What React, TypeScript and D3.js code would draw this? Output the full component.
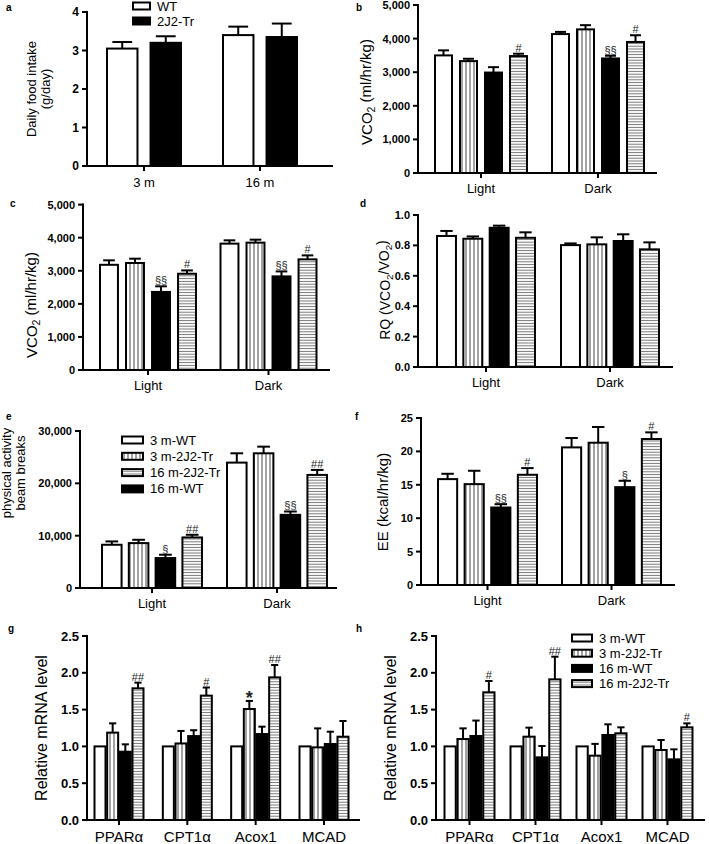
import React from 'react';
import * as d3 from 'd3';

// ---------- DATA ----------
const fourSeries = ['3 m-WT', '3 m-2J2-Tr', '16 m-WT', '16 m-2J2-Tr'];
const lightDark = ['Light', 'Dark'];
const genes = ['PPARα', 'CPT1α', 'Acox1', 'MCAD'];

// a: daily food intake
const aCategories = ['3 m', '16 m'];
const aSeries = ['WT', '2J2-Tr'];
const aMeans = [[3.05, 3.2], [3.4, 3.35]];
const aErr = [[0.17, 0.17], [0.22, 0.35]];
const aTicks = [0, 1, 2, 3, 4];

// b: VCO2
const bMeans = [[3500, 3330, 2990, 3480], [4135, 4275, 3410, 3900]];
const bErr = [[150, 70, 160, 70], [65, 125, 80, 200]];
const bMarks = [['', '', '', '#'], ['', '', '§§', '#']];
const vcoTicks = [0, 1000, 2000, 3000, 4000, 5000];

// c: VCO2
const cMeans = [[3180, 3235, 2360, 2910], [3820, 3850, 2830, 3345]];
const cErr = [[135, 130, 170, 100], [100, 90, 150, 120]];
const cMarks = [['', '', '§§', '#'], ['', '', '§§', '#']];

// d: RQ
const dMeans = [[0.862, 0.844, 0.916, 0.85], [0.802, 0.807, 0.829, 0.774]];
const dErr = [[0.033, 0.015, 0.014, 0.036], [0.011, 0.046, 0.044, 0.046]];
const dMarks = [['', '', '', ''], ['', '', '', '']];
const dTicks = [0, 0.2, 0.4, 0.6, 0.8, 1.0];

// e: physical activity
const eMeans = [[8260, 8580, 5720, 9660], [23960, 25740, 13980, 21610]];
const eErr = [[640, 635, 636, 510], [1780, 1270, 640, 950]];
const eMarks = [['', '', '§', '##'], ['', '', '§§', '##']];
const eTicks = [0, 10000, 20000, 30000];
const eLegendOrder = ['3 m-WT', '3 m-2J2-Tr', '16 m-2J2-Tr', '16 m-WT'];

// f: EE
const fMeans = [[15.85, 15.1, 11.6, 16.5], [20.6, 21.3, 14.65, 21.85]];
const fErr = [[0.8, 2.0, 0.5, 1.0], [1.4, 2.35, 0.95, 1.0]];
const fMarks = [['', '', '§§', '#'], ['', '', '§', '#']];
const fTicks = [0, 5, 10, 15, 20, 25];

// g: mRNA
const gMeans = [[1, 1.187, 0.928, 1.789], [1, 1.04, 1.14, 1.69], [1, 1.508, 1.168, 1.938], [1, 0.987, 1.033, 1.132]];
const gErr = [[0, 0.126, 0.1, 0.077], [0, 0.17, 0.08, 0.11], [0, 0.11, 0.1, 0.168], [0, 0.258, 0.167, 0.213]];
const gMarks = [['', '', '', '##'], ['', '', '', '#'], ['', '*', '', '##'], ['', '', '', '']];
const mrnaTicks = [0, 0.5, 1.0, 1.5, 2.0, 2.5];

// h: mRNA
const hMeans = [[1, 1.1, 1.141, 1.735], [1, 1.132, 0.851, 1.911], [1, 0.874, 1.155, 1.178], [1, 0.951, 0.824, 1.259]];
const hErr = [[0, 0.145, 0.21, 0.154], [0, 0.123, 0.154, 0.308], [0, 0.16, 0.145, 0.081], [0, 0.136, 0.136, 0.054]];
const hMarks = [['', '', '', '#'], ['', '', '', '##'], ['', '', '', ''], ['', '', '', '#']];

// ---------- STYLE ----------
const FONT = '"Liberation Sans", Arial, Helvetica, sans-serif';
const seriesFill: Record<string, string> = {
  '3 m-WT': 'white',
  '3 m-2J2-Tr': 'url(#vstripe)',
  '16 m-WT': 'black',
  '16 m-2J2-Tr': 'url(#hstripe)',
  WT: 'white',
  '2J2-Tr': 'black',
};

type PanelProps = {
  letter: string;
  letterPos: [number, number];
  axX: number;
  yTop: number;
  yBottom: number;
  xEnd: number;
  yMax: number;
  ticks: number[];
  fmt: (v: number) => string;
  cats: string[];
  series: string[];
  centerRange: [number, number];
  groupWidth: number;
  innerPad: number;
  means: number[][];
  errs: number[][];
  marks?: string[][];
  tickFont: number;
  catFont: number;
  catDy: number;
  ylabel: React.ReactNode;
};

function Panel(p: PanelProps) {
  const y = d3.scaleLinear().domain([0, p.yMax]).range([p.yBottom, p.yTop]);
  const gx = d3.scalePoint<string>().domain(p.cats).range(p.centerRange);
  const inner = d3
    .scaleBand<string>()
    .domain(p.series)
    .range([-p.groupWidth / 2, p.groupWidth / 2])
    .paddingInner(p.innerPad);
  const bw = inner.bandwidth();
  const cap = bw * 0.65;
  return (
    <g fontFamily={FONT}>
      <text x={p.letterPos[0]} y={p.letterPos[1]} fontSize={10} fontWeight="bold">
        {p.letter}
      </text>
      {p.cats.map((c, ci) => (
        <g key={c}>
          {p.series.map((s, si) => {
            const v = p.means[ci][si];
            const e = p.errs[ci][si];
            const x0 = (gx(c) as number) + (inner(s) as number);
            const xm = x0 + bw / 2;
            const yTopBar = y(v);
            const yErr = y(v + e);
            const mark = p.marks ? p.marks[ci][si] : '';
            return (
              <g key={s}>
                <rect
                  x={x0}
                  y={yTopBar}
                  width={bw}
                  height={p.yBottom - yTopBar}
                  fill={seriesFill[s]}
                  stroke="black"
                  strokeWidth={2}
                />
                {e > 0 && (
                  <g stroke="black" strokeWidth={2}>
                    <line x1={xm} x2={xm} y1={yTopBar} y2={yErr} />
                    <line x1={xm - cap / 2} x2={xm + cap / 2} y1={yErr} y2={yErr} />
                  </g>
                )}
                {mark && (
                  <text
                    x={xm}
                    y={mark === '*' ? yErr + 3 : yErr - 2}
                    textAnchor="middle"
                    fontSize={mark === '*' ? 18 : 11}
                    fontWeight={mark === '*' ? 'bold' : 'normal'}
                    fill="#222"
                  >
                    {mark}
                  </text>
                )}
              </g>
            );
          })}
        </g>
      ))}
      {/* axes */}
      <line x1={p.axX} x2={p.axX} y1={p.yTop - 1} y2={p.yBottom} stroke="black" strokeWidth={2} />
      <line x1={p.axX - 1} x2={p.xEnd} y1={p.yBottom} y2={p.yBottom} stroke="black" strokeWidth={2} />
      {p.ticks.map((t) => (
        <g key={t}>
          <line x1={p.axX - 5} x2={p.axX} y1={y(t)} y2={y(t)} stroke="black" strokeWidth={2} />
          <text
            x={p.axX - 8}
            y={y(t)}
            dy="0.36em"
            textAnchor="end"
            fontSize={p.tickFont}
            fontWeight="bold"
          >
            {p.fmt(t)}
          </text>
        </g>
      ))}
      {p.cats.map((c) => (
        <g key={c}>
          <line
            x1={gx(c)}
            x2={gx(c)}
            y1={p.yBottom}
            y2={p.yBottom + 5}
            stroke="black"
            strokeWidth={2}
          />
          <text x={gx(c)} y={p.yBottom + p.catDy} textAnchor="middle" fontSize={p.catFont}>
            {c}
          </text>
        </g>
      ))}
      {p.ylabel}
    </g>
  );
}

function Legend({ x, y, items, rowH, boxW, boxH, font }: { x: number; y: number; items: string[]; rowH: number; boxW: number; boxH: number; font: number }) {
  return (
    <g fontFamily={FONT}>
      {items.map((s, i) => (
        <g key={s} transform={`translate(${x},${y + i * rowH})`}>
          <rect x={0} y={-boxH / 2} width={boxW} height={boxH} fill={seriesFill[s]} stroke="black" strokeWidth={2} />
          <text x={boxW + 7} y={0} dy="0.35em" fontSize={font}>
            {s}
          </text>
        </g>
      ))}
    </g>
  );
}

function YLabel({ x, y, lines, size }: { x: number; y: number; lines: React.ReactNode[]; size: number }) {
  return (
    <g transform={`translate(${x},${y}) rotate(-90)`} fontFamily={FONT} fontSize={size}>
      {lines.map((l, i) => (
        <text key={i} x={0} y={i * (size + 1)} textAnchor="middle">
          {l}
        </text>
      ))}
    </g>
  );
}

const comma = d3.format(',');
const fmtInt = (v: number) => d3.format('d')(v);
const fmt1 = d3.format('.1f');
const sub = (t: string) => (
  <tspan fontSize="0.7em" dy="0.3em">
    {t}
  </tspan>
);

export default function App() {
  return (
    <div style={{ position: 'absolute', left: 0, top: 0 }}>
      <svg width={709} height={844} style={{ display: 'block', background: 'white' }}>
        <defs>
          <pattern id="vstripe" patternUnits="userSpaceOnUse" width={4} height={4}>
            <rect width={4} height={4} fill="white" />
            <line x1={2} x2={2} y1={0} y2={4} stroke="#555" strokeWidth={1.1} />
          </pattern>
          <pattern id="hstripe" patternUnits="userSpaceOnUse" width={4} height={2.8}>
            <rect width={4} height={2.8} fill="white" />
            <line x1={0} x2={4} y1={1.4} y2={1.4} stroke="#777" strokeWidth={1} />
          </pattern>
        </defs>

        {/* a */}
        <Panel
          letter="a" letterPos={[6, 11]}
          axX={87} yTop={12} yBottom={166} xEnd={333}
          yMax={4} ticks={aTicks} fmt={fmtInt}
          cats={aCategories} series={aSeries}
          centerRange={[144, 260]} groupWidth={74} innerPad={0.3}
          means={aMeans} errs={aErr}
          tickFont={12} catFont={13} catDy={21}
          ylabel={<YLabel x={36} y={89} size={13} lines={['Daily food intake', '(g/day)']} />}
        />
        <Legend x={133} y={6} items={aSeries} rowH={15} boxW={17} boxH={7} font={13} />

        {/* b */}
        <Panel
          letter="b" letterPos={[356, 11]}
          axX={418} yTop={5} yBottom={173} xEnd={657}
          yMax={5000} ticks={vcoTicks} fmt={comma}
          cats={lightDark} series={fourSeries}
          centerRange={[481, 598]} groupWidth={92} innerPad={0.32}
          means={bMeans} errs={bErr} marks={bMarks}
          tickFont={11} catFont={13} catDy={20}
          ylabel={<YLabel x={372} y={92} size={15} lines={[<>VCO{sub('2')}<tspan dy="-0.3em"> (ml/hr/kg)</tspan></>]} />}
        />

        {/* c */}
        <Panel
          letter="c" letterPos={[10, 207]}
          axX={83} yTop={204.6} yBottom={370} xEnd={330}
          yMax={5000} ticks={vcoTicks} fmt={comma}
          cats={lightDark} series={fourSeries}
          centerRange={[148, 268.5]} groupWidth={96} innerPad={0.31}
          means={cMeans} errs={cErr} marks={cMarks}
          tickFont={11} catFont={13} catDy={20}
          ylabel={<YLabel x={37} y={305} size={15} lines={[<>VCO{sub('2')}<tspan dy="-0.3em"> (ml/hr/kg)</tspan></>]} />}
        />

        {/* d */}
        <Panel
          letter="d" letterPos={[360, 207]}
          axX={418} yTop={215} yBottom={367} xEnd={673}
          yMax={1.0} ticks={dTicks} fmt={fmt1}
          cats={lightDark} series={fourSeries}
          centerRange={[486, 610]} groupWidth={98} innerPad={0.28}
          means={dMeans} errs={dErr} marks={dMarks}
          tickFont={11} catFont={13} catDy={20}
          ylabel={
            <YLabel x={390} y={290} size={14} lines={[
              <>RQ (VCO{sub('2')}<tspan dy="-0.3em">/VO</tspan>{sub('2')}<tspan dy="-0.3em">)</tspan></>,
            ]} />
          }
        />

        {/* e */}
        <Panel
          letter="e" letterPos={[6, 420]}
          axX={80} yTop={431} yBottom={588} xEnd={337}
          yMax={30000} ticks={eTicks} fmt={comma}
          cats={lightDark} series={fourSeries}
          centerRange={[152, 277]} groupWidth={100} innerPad={0.27}
          means={eMeans} errs={eErr} marks={eMarks}
          tickFont={11} catFont={13} catDy={20}
          ylabel={<YLabel x={11} y={473} size={13} lines={['physical activity', 'beam breaks']} />}
        />
        <Legend x={122} y={440} items={eLegendOrder} rowH={16.3} boxW={21} boxH={7} font={13} />

        {/* f */}
        <Panel
          letter="f" letterPos={[355, 420]}
          axX={421} yTop={418} yBottom={585} xEnd={675}
          yMax={25} ticks={fTicks} fmt={fmtInt}
          cats={lightDark} series={fourSeries}
          centerRange={[487.5, 611.5]} groupWidth={99} innerPad={0.28}
          means={fMeans} errs={fErr} marks={fMarks}
          tickFont={11} catFont={13} catDy={20}
          ylabel={<YLabel x={388} y={502} size={15} lines={['EE (kcal/hr/kg)']} />}
        />

        {/* g */}
        <Panel
          letter="g" letterPos={[8, 632]}
          axX={87} yTop={636} yBottom={820} xEnd={360}
          yMax={2.5} ticks={mrnaTicks} fmt={fmt1}
          cats={genes} series={fourSeries}
          centerRange={[119, 324]} groupWidth={49} innerPad={0.13}
          means={gMeans} errs={gErr} marks={gMarks}
          tickFont={13} catFont={15} catDy={22}
          ylabel={<YLabel x={47} y={728} size={16} lines={['Relative mRNA level']} />}
        />

        {/* h */}
        <Panel
          letter="h" letterPos={[356, 632]}
          axX={436} yTop={636} yBottom={820} xEnd={705}
          yMax={2.5} ticks={mrnaTicks} fmt={fmt1}
          cats={genes} series={fourSeries}
          centerRange={[469.5, 667.5]} groupWidth={50} innerPad={0.13}
          means={hMeans} errs={hErr} marks={hMarks}
          tickFont={13} catFont={15} catDy={22}
          ylabel={<YLabel x={396} y={728} size={16} lines={['Relative mRNA level']} />}
        />
        <Legend x={572} y={638} items={fourSeries} rowH={15.2} boxW={20} boxH={7} font={13} />
      </svg>
    </div>
  );
}
